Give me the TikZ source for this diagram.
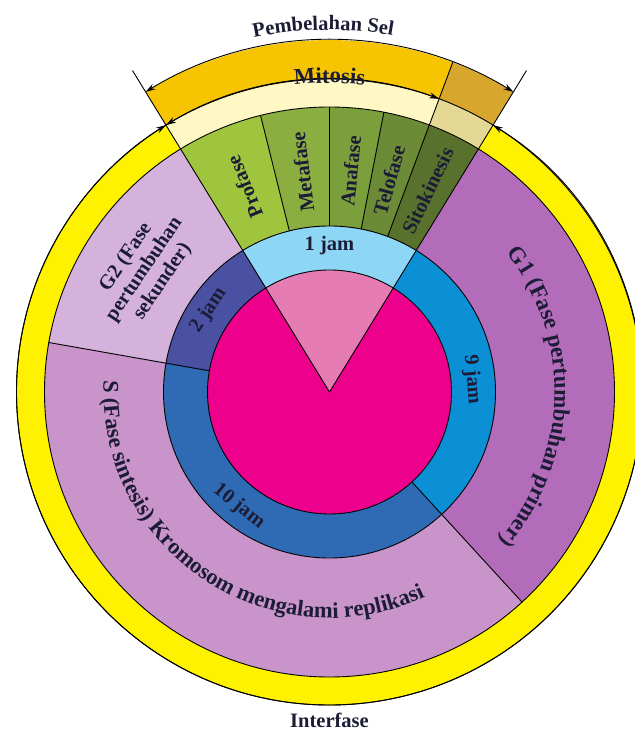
\documentclass[tikz,border=0pt]{standalone}
\usepackage{fontspec}
\setmainfont{Liberation Serif}
\usetikzlibrary{arrows.meta,decorations.text}
\definecolor{pinkc}{HTML}{EC008C}
\definecolor{pinkw}{HTML}{E57DB4}
\definecolor{jamA}{HTML}{8ED6F6}
\definecolor{jamB}{HTML}{4A51A3}
\definecolor{jamC}{HTML}{2F6BB5}
\definecolor{jamD}{HTML}{0C90D5}
\definecolor{gtwo}{HTML}{D4B2DB}
\definecolor{sphase}{HTML}{C894C9}
\definecolor{gone}{HTML}{B36CB9}
\definecolor{pro}{HTML}{9EC53D}
\definecolor{meta}{HTML}{8AAE3F}
\definecolor{ana}{HTML}{7B9F3B}
\definecolor{telo}{HTML}{6B8B36}
\definecolor{sito}{HTML}{58722E}
\definecolor{yel}{HTML}{FFF200}
\definecolor{pale}{HTML}{FFF7C4}
\definecolor{tan}{HTML}{E5D794}
\definecolor{gold}{HTML}{F6C400}
\definecolor{dgold}{HTML}{D6A72C}
\definecolor{txtc}{HTML}{1C1C36}
\newcommand\ringseg[5]{\fill[#5] (#1:#3) arc[start angle=#1,end angle=#2,radius=#3] -- (#2:#4) arc[start angle=#2,end angle=#1,radius=#4] -- cycle;}
\newcommand\lblfont{\bfseries\fontsize{20.5}{23}\selectfont}
\newcommand\gonefont{\bfseries\fontsize{23}{25}\selectfont}
\newcommand\sfont{\bfseries\fontsize{22.5}{25}\selectfont}
\newcommand\mitfont{\bfseries\fontsize{22.5}{25}\selectfont}
\tikzset{
  lbl/.style={font=\lblfont, text=txtc, inner sep=0pt, align=center},
  dimarrow/.style={draw=black, line width=0.9pt, {Stealth[length=10pt,width=6pt]}-{Stealth[length=10pt,width=6pt]}},
  border/.style={draw=black, line width=0.9pt},
  curvetext/.style={decorate, decoration={text along path, text align=center, text color=txtc}}
}
\begin{document}
\begin{tikzpicture}[line join=round]
\useasboundingbox (-329.5pt,-338pt) rectangle (304.5pt,392pt);
% centre disk
\fill[pinkc] (0,0) circle[radius=122pt];
\fill[pinkw] (0,0) -- (58.5:122pt) arc[start angle=58.5,end angle=121.5,radius=122pt] -- cycle;
% blue ring
\ringseg{58.5}{121.5}{122pt}{166pt}{jamA}
\ringseg{121.5}{170}{122pt}{166pt}{jamB}
\ringseg{170}{312.5}{122pt}{166pt}{jamC}
\ringseg{312.5}{418.5}{122pt}{166pt}{jamD}
% purple ring
\ringseg{121.5}{170}{166pt}{285pt}{gtwo}
\ringseg{170}{312.5}{166pt}{285pt}{sphase}
\ringseg{312.5}{418.5}{166pt}{285pt}{gone}
% mitosis phases
\ringseg{104}{121.5}{166pt}{285pt}{pro}
\ringseg{90}{104}{166pt}{285pt}{meta}
\ringseg{79}{90}{166pt}{285pt}{ana}
\ringseg{69.5}{79}{166pt}{285pt}{telo}
\ringseg{58.5}{69.5}{166pt}{285pt}{sito}
% yellow ring
\ringseg{121.5}{418.5}{285pt}{313pt}{yel}
\ringseg{69.5}{121.5}{285pt}{313pt}{pale}
\ringseg{58.5}{69.5}{285pt}{313pt}{tan}
% gold band
\ringseg{69.5}{121.5}{313pt}{352pt}{gold}
\ringseg{58.5}{69.5}{313pt}{352pt}{dgold}
% borders
\foreach \r in {122,166,285,313} \draw[border] (0,0) circle[radius=\r pt];
\draw[border] (0,0) -- (121.5:377pt);
\draw[border] (0,0) -- (58.5:377pt);
\draw[border] (69.5:166pt) -- (69.5:352pt);
\foreach \a in {79,90,104} \draw[border] (\a:166pt) -- (\a:285pt);
\draw[border] (170:122pt) -- (170:285pt);
\draw[border] (312.5:122pt) -- (312.5:285pt);
% arrows
\draw[dimarrow] (121.5:352pt) arc[start angle=121.5,end angle=58.5,radius=352pt];
\draw[dimarrow] (121.5:313pt) arc[start angle=121.5,end angle=69.5,radius=313pt];
\draw[dimarrow] (58.5:313pt) arc[start angle=58.5,end angle=-238.5,radius=313pt];
% curved labels
\path[curvetext, decoration={text={|\lblfont|Pembelahan Sel}}] (131:362pt) arc[start angle=131,end angle=51,radius=362pt];
\path[curvetext, decoration={text={|\mitfont|Mitosis}}] (130:309pt) arc[start angle=130,end angle=50,radius=309pt];
\path[curvetext, decoration={text={|\gonefont|G1 (Fase pertumbuhan primer)}}] (60:225pt) arc[start angle=60,end angle=-63,radius=225pt];
\path[curvetext, decoration={text={|\sfont|S (Fase sintesis) Kromosom mengalami replikasi}}] (146:226pt) arc[start angle=146,end angle=326,radius=226pt];
% straight labels
\node[lbl, rotate=112.5] (profase) at (112.5:222pt) {Profase};
\node[lbl, rotate=97] (metafase) at (97:222pt) {Metafase};
\node[lbl, rotate=84.5] (anafase) at (84.5:222pt) {Anafase};
\node[lbl, rotate=74.25] (telofase) at (74.25:220pt) {Telofase};
\node[lbl, rotate=64] (sitokinesis) at (64:224pt) {Sitokinesis};
\node[lbl] (jam1) at (90:146pt) {1 jam};
\node[lbl, rotate=56] (jam2) at (146:146pt) {2 jam};
\node[lbl, rotate=-85] (jam9) at (5:143pt) {9 jam};
\node[lbl, rotate=-38.4] (jam10) at (231.6:146pt) {10 jam};
\node[lbl, rotate=56, font=\bfseries\fontsize{20.5}{22}\selectfont] (gtwolbl) at (146.5:222pt) {G2 (Fase\\pertumbuhan\\sekunder)};
\node[lbl, anchor=base] (interfase) at (0,-335pt) {Interfase};
\end{tikzpicture}
\end{document}
